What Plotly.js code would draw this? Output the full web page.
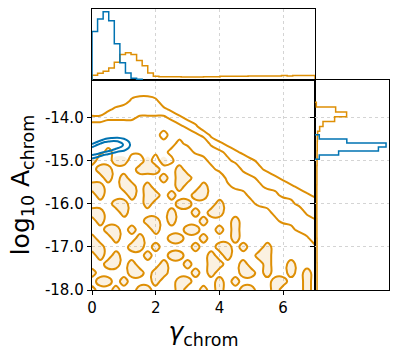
<!DOCTYPE html>
<html>
<head>
<meta charset="utf-8">
<script src="https://cdn.plot.ly/plotly-3.0.1.min.js"></script>
<style>html,body{margin:0;padding:0;background:#fff}#chart{width:398px;height:354px}</style>
</head>
<body>
<div id="chart"></div>
<script>
// orange posterior: density levels, one string per log10 A row
// (top row -13.2 first), one char per gamma column; 'x' marks a sparse hole (density HOLE)
const gammaGrid = [0, 0.25, 0.5, 0.75, 1, 1.25, 1.5, 1.75, 2, 2.25, 2.5, 2.75, 3, 3.25, 3.5,
	3.75, 4, 4.25, 4.5, 4.75, 5, 5.25, 5.5, 5.75, 6, 6.25, 6.5, 6.75, 7];
const logAGrid = [-13.2, -13.4, -13.6, -13.8, -14.0, -14.2, -14.4, -14.6, -14.8, -15.0, -15.2, -15.4,
	-15.6, -15.8, -16.0, -16.2, -16.4, -16.6, -16.8, -17.0, -17.2, -17.4, -17.6, -17.8, -18.0];
const orangeRows = [
	"00000000000000000000000000000",
	"00000000000000000000000000000",
	"00000233200000000000000000000",
	"00123322221000000000000000000",
	"22333344443210000000000000000",
	"55555555555432000000000000000",
	"55555555565554310000000000000",
	"55555555555655532100000000000",
	"55655555556775554321000000000",
	"x77xx77x7x5778655433210000000",
	"7xx777xxx77x77765553221000000",
	"77x7x7777x7xx7777555433210000",
	"xx77xx7x777x77x77655543332100",
	"7x777x7xx7x77xx77776555433321",
	"777xx77x777xx777x777655554333",
	"xx77x77777x77x7xx777776555532",
	"7x77777xx7x777x777x7777655554",
	"77xx7x77x777xx77x7x7777776545",
	"x77x77x777xx77x777x7777777764",
	"xx777xx7x7777x77xx7x77x777776",
	"7x7x777x77xx777x7x777xx777777",
	"77xx7x777x77x77xx77x77x77x777",
	"x7777xx7xx777x7x777xx7x77x7x7",
	"7xx7x777x77xx777x7x7777xx77x7",
	"x77x77xx777x77x7x77xx77x777x7"
];
const HOLE = 4;
const orangeLevels = [1.5, 3.5, 5.5];

// blue posterior: small grid around its peak, one array per gamma column (log10 A from -15.10 up)
const blueGamma = [0, 0.2, 0.4, 0.6, 0.8, 1.0, 1.2, 1.4];
const blueLogA = [-15.10, -15.05, -15.00, -14.95, -14.90, -14.85, -14.80, -14.75, -14.70,
	-14.65, -14.60, -14.55, -14.50, -14.45, -14.40, -14.35, -14.30];
const blueCols = [
	[0.21, 0.58, 1.38, 2.76, 4.65, 6.58, 7.83, 7.83, 6.58, 4.65, 2.76, 1.38, 0.58, 0.21, 0.06, 0.02, 0],
	[0.07, 0.23, 0.66, 1.56, 3.11, 5.23, 7.41, 8.81, 8.81, 7.41, 5.23, 3.11, 1.56, 0.66, 0.23, 0.07, 0.02],
	[0.02, 0.07, 0.25, 0.69, 1.64, 3.28, 5.52, 7.82, 9.30, 9.30, 7.82, 5.52, 3.28, 1.64, 0.69, 0.25, 0.07],
	[0, 0.03, 0.13, 0.40, 1.03, 2.24, 4.12, 6.36, 8.25, 9.00, 8.25, 6.36, 4.12, 2.24, 1.03, 0.40, 0.13],
	[0, 0.01, 0.06, 0.20, 0.55, 1.30, 2.59, 4.36, 6.17, 7.34, 7.34, 6.17, 4.36, 2.59, 1.30, 0.55, 0.20],
	[0, 0, 0.04, 0.15, 0.42, 1.00, 2.00, 3.37, 4.77, 5.68, 5.68, 4.77, 3.37, 2.00, 1.00, 0.42, 0.15],
	[0, 0, 0.02, 0.08, 0.21, 0.50, 1.00, 1.68, 2.39, 2.84, 2.84, 2.39, 1.68, 1.00, 0.50, 0.21, 0.08],
	[0, 0, 0.01, 0.03, 0.07, 0.17, 0.35, 0.58, 0.82, 0.98, 0.98, 0.82, 0.58, 0.35, 0.17, 0.07, 0.03]
];
const blueLevels = [3, 6];

// gamma marginal (top): 40 bins over [0, 7]
const gammaBinStart = 0;
const gammaBinWidth = 0.175;
const gammaHistBlue = [144, 181, 203, 176, 108, 51, 21, 5, 2];
const gammaHistOrange = [14, 20, 26, 36, 53, 76, 81, 76, 58, 42, 21, 11, 10, 10, 10, 10, 9, 9, 9, 9,
	10, 10, 10, 11, 11, 11, 11, 11, 12, 12, 12, 12, 12, 12, 13, 12, 13, 13, 13, 13];

// log10 A marginal (right): bins listed from the top edge downwards
const logABlueTop = -14.395;
const logABlueWidth = 0.094;
const logAHistBlue = [5.8, 43, 96, 85.7, 31.9, 5.8];
const logAOrangeTop = -13.635;
const logAOrangeWidth = 0.113;
const logAHistOrange = [1.8, 27.9, 42.7, 26.5, 10.8, 6.3, 3.6, 3.2, 3, 3, 2.8, 2.8, 2.8, 2.6, 2.6, 2.6,
	2.6, 2.5, 2.5, 2.5, 2.5, 2.5, 2.5, 2.5, 2.6, 2.6, 2.6, 2.6, 2.7, 2.7, 2.7, 2.7, 2.7, 2.8, 2.8, 2.8,
	2.8, 2.8, 2.8];

const gammaTicks = [0, 2, 4, 6];
const logATicks = [-18, -17, -16, -15, -14];
const logATickText = ['-18.0', '-17.0', '-16.0', '-15.0', '-14.0'];

const BLUE = '#0173b2';
const ORANGE = '#de8f05';

function stepX(start, width, counts) {
	// horizontal step outline: x = bin edges, y = counts
	let xs = [start], ys = [0];
	for (let i = 0; i < counts.length; i++) {
		xs.push(start + i * width);
		ys.push(counts[i]);
	}
	xs.push(start + counts.length * width, start + counts.length * width);
	ys.push(counts[counts.length - 1], 0);
	return {x: xs, y: ys};
}

function stepY(top, width, counts) {
	// vertical step outline, bins going downwards from top
	let xs = [0], ys = [top];
	for (let i = 0; i < counts.length; i++) {
		xs.push(counts[i]);
		ys.push(top - i * width);
	}
	xs.push(counts[counts.length - 1], 0);
	ys.push(top - counts.length * width, top - counts.length * width);
	return {x: xs, y: ys};
}

let logAAsc = logAGrid.slice().reverse();
let rowsAsc = orangeRows.slice().reverse();
let zOrange = rowsAsc.map(r => r.split('').map(ch => ch === 'x' ? HOLE : Number(ch)));
let zHoles = rowsAsc.map(r => r.split('').map(ch => ch === 'x' ? 0 : 1));
let zBlue = blueLogA.map((_, j) => blueCols.map(col => col[j]));

let topBlue = stepX(gammaBinStart, gammaBinWidth, gammaHistBlue);
let topOrange = stepX(gammaBinStart, gammaBinWidth, gammaHistOrange);
let rightBlue = stepY(logABlueTop, logABlueWidth, logAHistBlue);
let rightOrange = stepY(logAOrangeTop, logAOrangeWidth, logAHistOrange);

let data = [
	// faint sample scatter showing through the sparse holes
	{type: 'contour', x: gammaGrid, y: logAAsc, z: zHoles,
		contours: {type: 'constraint', operation: '>', value: 0.5},
		fillcolor: 'rgba(222,143,5,0.12)', line: {width: 0, color: 'rgba(0,0,0,0)', smoothing: 1},
		showscale: false, hoverinfo: 'skip', xaxis: 'x', yaxis: 'y'},
	{type: 'contour', x: gammaGrid, y: logAAsc, z: zOrange, autocontour: false,
		contours: {coloring: 'lines', start: orangeLevels[0], end: orangeLevels[orangeLevels.length - 1],
			size: orangeLevels[1] - orangeLevels[0]},
		colorscale: [[0, ORANGE], [1, ORANGE]], showscale: false,
		line: {width: 2, smoothing: 1}, hoverinfo: 'skip', xaxis: 'x', yaxis: 'y'},
	{type: 'contour', x: blueGamma, y: blueLogA, z: zBlue, autocontour: false,
		contours: {coloring: 'lines', start: blueLevels[0], end: blueLevels[1], size: blueLevels[1] - blueLevels[0]},
		colorscale: [[0, BLUE], [1, BLUE]], showscale: false,
		line: {width: 2, smoothing: 1}, hoverinfo: 'skip', xaxis: 'x', yaxis: 'y'},
	{type: 'scatter', mode: 'lines', x: topOrange.x, y: topOrange.y, line: {color: ORANGE, width: 1.5, shape: 'hv'},
		xaxis: 'x2', yaxis: 'y2'},
	{type: 'scatter', mode: 'lines', x: topBlue.x, y: topBlue.y, line: {color: BLUE, width: 1.5, shape: 'hv'},
		xaxis: 'x2', yaxis: 'y2'},
	{type: 'scatter', mode: 'lines', x: rightOrange.x, y: rightOrange.y, line: {color: ORANGE, width: 1.5, shape: 'vh'},
		xaxis: 'x3', yaxis: 'y3'},
	{type: 'scatter', mode: 'lines', x: rightBlue.x, y: rightBlue.y, line: {color: BLUE, width: 1.5, shape: 'vh'},
		xaxis: 'x3', yaxis: 'y3'}
];

const xDom = [92 / 398, 315 / 398];
const yDom = [64 / 354, 274 / 354];
const gridStyle = {showgrid: true, gridcolor: '#d4d4d4', griddash: 'dot', gridwidth: 1};
const lineStyle = {showline: true, linecolor: '#000', linewidth: 1.3, mirror: true, zeroline: false};

let layout = {
	width: 398, height: 354,
	margin: {l: 0, r: 0, t: 0, b: 0},
	showlegend: false,
	paper_bgcolor: '#fff', plot_bgcolor: '#fff',
	font: {family: 'DejaVu Sans', size: 15, color: '#000'},
	xaxis: Object.assign({domain: xDom, range: [0, 7], anchor: 'y', tickvals: gammaTicks,
		ticks: 'outside', ticklen: 4, tickcolor: '#000',
		title: {text: '<i>γ</i><sub>chrom</sub>', font: {size: 25}, standoff: 6}}, gridStyle, lineStyle),
	yaxis: Object.assign({domain: yDom, range: [-18, -13.12], anchor: 'x', tickvals: logATicks,
		ticktext: logATickText, ticks: 'outside', ticklen: 4, tickcolor: '#000',
		title: {text: 'log<sub>10</sub> A<sub>chrom</sub>', font: {size: 25}, standoff: 8}}, gridStyle, lineStyle),
	xaxis2: Object.assign({domain: xDom, range: [0, 7], anchor: 'y2', tickvals: gammaTicks.slice(1),
		showticklabels: false, ticks: ''}, gridStyle, lineStyle),
	yaxis2: Object.assign({domain: [274 / 354, 344.7 / 354], range: [0, 210], anchor: 'x2',
		showticklabels: false, showgrid: false, ticks: ''}, lineStyle),
	xaxis3: Object.assign({domain: [315 / 398, 389 / 398], range: [0, 100], anchor: 'y3',
		showticklabels: false, showgrid: false, ticks: ''}, lineStyle),
	yaxis3: Object.assign({domain: yDom, range: [-18, -13.12], anchor: 'x3', tickvals: logATicks.slice(1),
		showticklabels: false, ticks: 'outside', ticklen: 4, tickcolor: '#000'}, gridStyle, lineStyle)
};

Plotly.newPlot('chart', data, layout, {displayModeBar: false, staticPlot: true});
</script>
</body>
</html>
